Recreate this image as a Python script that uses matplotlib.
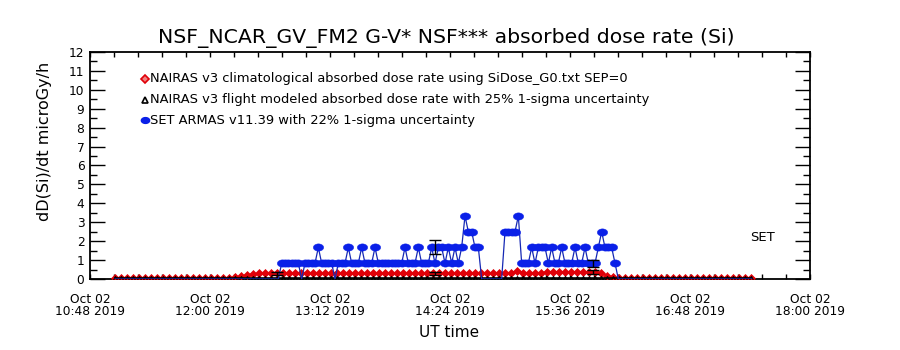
import numpy as np
import pandas as pd
import matplotlib
matplotlib.use("Agg")
import matplotlib.pyplot as plt
import matplotlib.dates as mdates
from matplotlib.ticker import FixedLocator

# region: values
day = "2019-10-02"
x_start, x_end = "10:48", "18:00"
major_times = ["10:48", "12:00", "13:12", "14:24", "15:36", "16:48", "18:00"]
minor_step = 14.4  # minutes between minor ticks

# SET ARMAS counts, one per 2 min sample, each count is one dose step
set_step_dose = 0.833  # microGy/h
set_t0, set_dt = "11:03", 2.0
set_counts = ([0] * 50 +
              [1, 1, 1, 1, 1, 1, 0, 1, 1, 1, 1, 2, 1, 1, 1, 1, 0, 1, 1, 1,
               2, 1, 1, 1, 2, 1, 1, 1, 2, 1, 1, 1, 1, 1, 1, 1, 1, 2, 1, 1,
               1, 2, 1, 1, 1, 2, 1, 2, 2, 1, 2, 1, 2, 1, 2, 4, 3, 3, 2, 2,
               0, 0, 0, 0, 0, 0, 0, 3, 3, 3, 3, 4, 1, 1, 1, 2, 1, 2, 2, 2,
               1, 2, 1, 1, 2, 1, 1, 1, 2, 1, 1, 2, 1, 1, 1, 2, 3, 2, 2, 2,
               1, 0] +
              [0] * 40)

# NAIRAS model series, one per 3.6 min sample
nairas_t0, nairas_dt = "11:03", 3.6
clim_dose = ([0.03] * 20 + [0.08, 0.15, 0.22, 0.27, 0.30] + [0.30] * 41 +
             [0.33, 0.42, 0.34, 0.32, 0.32, 0.33, 0.37] + [0.38] * 8 +
             [0.30, 0.18, 0.08] + [0.03] * 23)
flight_dose = [0.04] * len(clim_dose)

# error bars
nairas_err_times = ["12:40", "14:15", "15:50"]
nairas_err_vals = [0.30, 0.30, 0.38]
nairas_unc = 0.25
set_err_times = ["14:15", "15:50"]
set_err_vals = [1.67, 0.83]
set_unc = 0.22

legend_labels = [
    "NAIRAS v3 climatological absorbed dose rate using SiDose_G0.txt SEP=0",
    "NAIRAS v3 flight modeled absorbed dose rate with 25% 1-sigma uncertainty",
    "SET ARMAS v11.39 with 22% 1-sigma uncertainty",
]
# endregion


def ts(hhmm):
    return pd.Timestamp(f"{day} {hhmm}")


set_t = pd.date_range(ts(set_t0), periods=len(set_counts), freq=pd.Timedelta(minutes=set_dt))
set_dose = np.array(set_counts) * set_step_dose
nairas_t = pd.date_range(ts(nairas_t0), periods=len(clim_dose), freq=pd.Timedelta(minutes=nairas_dt))

# flattened filled circle, like the IDL user symbol
th = np.linspace(0, 2 * np.pi, 25)
blob = np.column_stack([np.cos(th), 0.7 * np.sin(th)])

plt.rcParams['font.family'] = ['DejaVu Sans']

fig = plt.figure(figsize=(9, 3.5), dpi=100)
ax = fig.add_axes([0.1, 0.2029, 0.8, 0.6486])

ax.plot(nairas_t, clim_dose, color='#e00008', lw=1, marker='D', ms=4,
        mfc='#e00008', mec='#e00008', mew=0.5, zorder=3)
ax.plot(nairas_t, flight_dose, color='black', lw=1.2, marker='^', ms=3,
        mfc='none', mew=0.8, zorder=3.5)
ax.plot(set_t, set_dose, color='#1528b4', lw=0.9, zorder=4)
ax.plot(set_t, set_dose, ls='none', marker=blob, ms=7.5,
        mfc='#0a20e8', mec='#0a20e8', mew=0.3, markevery=list(np.nonzero(set_dose)[0]),
        zorder=4)

ax.errorbar([ts(t) for t in nairas_err_times], nairas_err_vals,
            yerr=np.array(nairas_err_vals) * nairas_unc, fmt='none',
            ecolor='black', elinewidth=1, capsize=4, capthick=1, zorder=5)
ax.errorbar([ts(t) for t in set_err_times], set_err_vals,
            yerr=np.array(set_err_vals) * set_unc, fmt='none',
            ecolor='black', elinewidth=1, capsize=4, capthick=1, zorder=5)

ax.set_xlim(ts(x_start), ts(x_end))
ax.set_ylim(0, 12)

major = [mdates.date2num(ts(t)) for t in major_times]
minor = [mdates.date2num(ts(x_start) + pd.Timedelta(minutes=minor_step * k)) for k in range(31)]
ax.xaxis.set_major_locator(FixedLocator(major))
ax.xaxis.set_minor_locator(FixedLocator(minor))
ax.xaxis.set_major_formatter(mdates.DateFormatter('%b %d\n%H:%M %Y'))
ax.set_yticks(np.arange(0, 13, 1))
ax.set_yticks(np.arange(0.5, 12, 1), minor=True)

ax.tick_params(axis='x', which='both', direction='in', top=True, bottom=True,
               length=3.5, width=1, pad=10, labelsize=8.8)
ax.tick_params(axis='y', which='major', direction='in', left=True, right=True,
               length=11, width=1, pad=4, labelsize=8.8)
ax.tick_params(axis='y', which='minor', direction='in', left=True, right=True,
               length=5, width=1)
for lab in ax.get_xticklabels():
    lab.set_linespacing(0.95)
for sp in ax.spines.values():
    sp.set_linewidth(1.3)

# legend drawn the IDL way: symbol then text
leg_y = [0.881, 0.789, 0.700]
ax.plot(0.0764, leg_y[0], transform=ax.transAxes, marker='D', ms=4.2,
        mfc='#f08080', mec='#e00008', mew=1.2, ls='none')
ax.plot(0.0764, leg_y[1], transform=ax.transAxes, marker='^', ms=4.5,
        mfc='none', mec='black', mew=1.2, ls='none')
ax.plot(0.0764, leg_y[2], transform=ax.transAxes, marker=blob, ms=6,
        mfc='#0a20e8', mec='#0a20e8', ls='none')
for yy, lab in zip(leg_y, legend_labels):
    ax.text(0.083, yy, lab, transform=ax.transAxes, fontsize=9.4,
            va='center', ha='left')

ax.text(0.917, 0.181, "SET", transform=ax.transAxes, fontsize=9.5,
        va='center', ha='left')

fig.text(0.496, 0.891, "NSF_NCAR_GV_FM2 G-V* NSF*** absorbed dose rate (Si)",
         fontsize=14.7, ha='center', va='center')
fig.text(0.499, 0.051, "UT time", fontsize=11, ha='center', va='center')
fig.text(0.05, 0.597, "dD(Si)/dt microGy/h", fontsize=11.5, rotation=90,
         ha='center', va='center')

fig.savefig("out.png", dpi=100)
